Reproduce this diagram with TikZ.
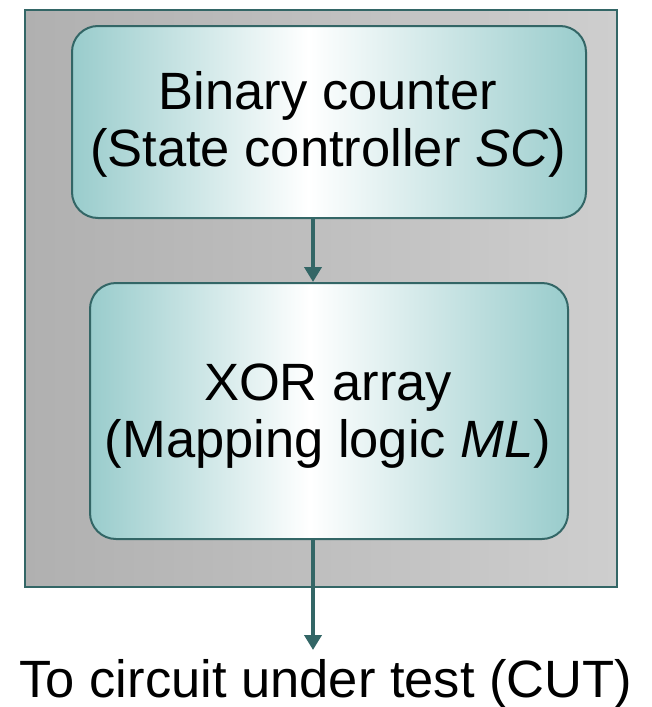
\documentclass[tikz,border=0pt]{standalone}
\usepackage{fontspec}
\setmainfont{Liberation Sans}
\usetikzlibrary{arrows.meta}
\definecolor{edgec}{HTML}{336666}
\definecolor{tealL}{HTML}{99CCCC}
\definecolor{grayL}{HTML}{B0B0B0}
\definecolor{grayR}{HTML}{CECECE}
\pgfdeclarehorizontalshading{boxshade}{100bp}{color(0bp)=(tealL); color(25bp)=(tealL); color(48bp)=(white); color(75bp)=(tealL); color(100bp)=(tealL)}
\begin{document}
\begin{tikzpicture}[x=1pt,y=-1pt,
  bigfont/.style={font=\fontsize{52.5}{56.5}\selectfont},
  box/.style={draw=edgec, line width=2pt, rounded corners=26pt, shading=boxshade, inner sep=0pt},
  boxtext/.style={align=center, bigfont, inner sep=0pt},
  conn/.style={draw=edgec, line width=4pt, -{Triangle[width=17pt,length=15pt]}}]
\useasboundingbox (0,0) rectangle (652,707);
\node[draw=edgec, line width=2pt, left color=grayL, right color=grayR, minimum width=592pt, minimum height=577pt, inner sep=0pt] (outer) at (321,298.5) {};
\node[box, minimum width=514pt, minimum height=192pt] (bc) at (329,122) {};
\node[boxtext] (bctext) at (328,124.5) {Binary counter\\(State controller \textit{SC})};
\node[box, minimum width=478pt, minimum height=256pt] (xor) at (329,411) {};
\node[boxtext] (xortext) at (328,416) {XOR array\\(Mapping logic \textit{ML})};
\node[bigfont, anchor=base, inner sep=0pt] (cut) at (326,697) {To circuit under test (CUT)};
\coordinate (tip) at (313,650);
\draw[conn] (bc.south -| tip) -- (xor.north -| tip);
\draw[conn] (xor.south -| tip) -- (tip);
\end{tikzpicture}
\end{document}
